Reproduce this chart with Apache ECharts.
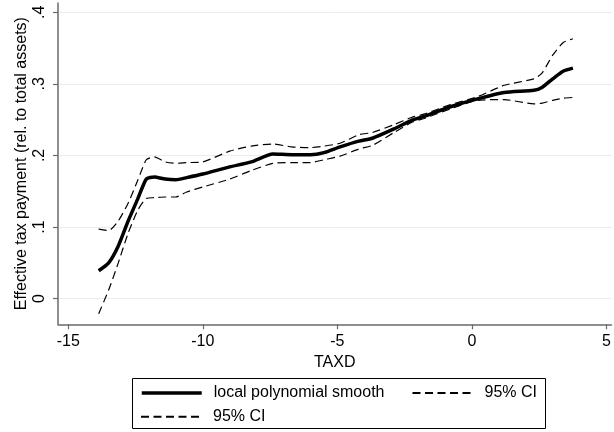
<!DOCTYPE html>
<html>
<head>
<meta charset="utf-8">
<script src="https://cdn.jsdelivr.net/npm/echarts@6/dist/echarts.min.js"></script>
<style>html,body{margin:0;padding:0;background:#fff;}#chart{width:614px;height:432px;}</style>
</head>
<body>
<div id="chart"></div>
<script>
const xGrid = [-13.87, -13.5, -13.15, -12.78, -12.41, -12.1, -11.8, -11.4, -11.0, -10.6, -10.0, -9.0, -8.2, -7.4, -6.7, -6.0, -5.5, -4.9, -4.2, -3.7, -2.9, -2.25, -1.75, -0.8, 0.2, 1.2, 2.3, 2.6, 3.0, 3.4, 3.75];
const smoothY = [0.039, 0.050, 0.073, 0.108, 0.140, 0.167, 0.170, 0.167, 0.166, 0.169, 0.174, 0.184, 0.191, 0.202, 0.201, 0.201, 0.204, 0.212, 0.220, 0.224, 0.237, 0.249, 0.255, 0.268, 0.279, 0.288, 0.291, 0.295, 0.307, 0.318, 0.322];
const ciUpper = [0.097, 0.095, 0.108, 0.133, 0.166, 0.194, 0.198, 0.191, 0.189, 0.190, 0.191, 0.206, 0.213, 0.216, 0.212, 0.211, 0.213, 0.217, 0.229, 0.232, 0.243, 0.253, 0.258, 0.271, 0.282, 0.298, 0.307, 0.315, 0.340, 0.358, 0.363];
const ciLower = [-0.021, 0.012, 0.049, 0.091, 0.124, 0.140, 0.141, 0.142, 0.142, 0.149, 0.156, 0.167, 0.179, 0.189, 0.190, 0.190, 0.194, 0.199, 0.209, 0.214, 0.232, 0.246, 0.252, 0.265, 0.277, 0.278, 0.272, 0.273, 0.277, 0.280, 0.281];
const xTickValues = [-15, -10, -5, 0, 5];
const yTickValues = [0, 0.1, 0.2, 0.3, 0.4];
const yTickLabels = ['0', '.1', '.2', '.3', '.4'];
const legendLabels = {smooth: 'local polynomial smooth', ciUpper: '95% CI', ciLower: '95% CI'};

const FONT = '"Liberation Sans", Arial, Helvetica, sans-serif';
const pairs = (xs, ys) => xs.map((x, i) => [x, ys[i]]);

const chart = echarts.init(document.getElementById('chart'), null, {renderer: 'canvas'});
const legendCommon = {
  orient: 'horizontal',
  padding: 0,
  itemWidth: 60,
  itemHeight: 18,
  itemGap: 27,
  selectedMode: false,
  itemStyle: {opacity: 0},
  formatter: n => legendLabels[n],
  textStyle: {fontFamily: FONT, fontSize: 16, color: '#000', lineHeight: 18, padding: [0, 0, 0, 7]}
};
chart.setOption({
  animation: false,
  backgroundColor: '#fff',
  grid: {left: 58, right: 0, top: 3, bottom: 107.7, containLabel: false},
  xAxis: {
    type: 'value', min: -15.381, max: 5.181,
    name: 'TAXD', nameLocation: 'middle', nameGap: 26,
    nameTextStyle: {fontFamily: FONT, fontSize: 16, color: '#000'},
    axisLine: {show: true, onZero: false, lineStyle: {color: '#6a6a6a', width: 1.5}},
    axisTick: {show: true, length: 5, customValues: xTickValues, lineStyle: {color: '#6a6a6a', width: 1.2}},
    axisLabel: {customValues: xTickValues, margin: 9, fontFamily: FONT, fontSize: 16, color: '#000'},
    splitLine: {show: false}
  },
  yAxis: {
    type: 'value', min: -0.0358, max: 0.4129,
    name: 'Effective tax payment (rel. to total assets)', nameLocation: 'middle', nameGap: 28, nameRotate: 90,
    nameMoveOverlap: false,
    nameTextStyle: {fontFamily: FONT, fontSize: 16, color: '#000'},
    axisLine: {show: true, onZero: false, lineStyle: {color: '#6a6a6a', width: 1.5}},
    axisTick: {show: true, length: 5, customValues: yTickValues, lineStyle: {color: '#6a6a6a', width: 1.2}},
    axisLabel: {customValues: yTickValues, rotate: 90, margin: 10, fontFamily: FONT, fontSize: 16, color: '#000',
      formatter: v => { const i = yTickValues.findIndex(t => Math.abs(t - v) < 1e-9); return i >= 0 ? yTickLabels[i] : ''; }},
    splitLine: {show: true, lineStyle: {color: '#e6eef1', width: 1}}
  },
  legend: [
    Object.assign({}, legendCommon, {data: [{name: 'smooth', lineStyle: {width: 3.5}}, 'ciUpper'], left: 140, top: 384}),
    Object.assign({}, legendCommon, {data: ['ciLower'], left: 140, top: 407.7})
  ],
  graphic: [{
    type: 'rect', silent: true,
    shape: {x: 132.5, y: 378.5, width: 413, height: 50},
    style: {fill: 'none', stroke: '#000', lineWidth: 1}
  }],
  series: [
    {name: 'smooth', type: 'line', data: pairs(xGrid, smoothY), showSymbol: false, symbol: 'none', smooth: 0.2,
      lineStyle: {color: '#000', width: 3.5}, itemStyle: {color: '#000'}, z: 3},
    {name: 'ciUpper', type: 'line', data: pairs(xGrid, ciUpper), showSymbol: false, symbol: 'none', smooth: 0.2,
      lineStyle: {color: '#000', width: 1.2, type: [8, 4.5]}, itemStyle: {color: '#000'}},
    {name: 'ciLower', type: 'line', data: pairs(xGrid, ciLower), showSymbol: false, symbol: 'none', smooth: 0.2,
      lineStyle: {color: '#000', width: 1.2, type: [8, 4.5]}, itemStyle: {color: '#000'}}
  ]
});
</script>
</body>
</html>
